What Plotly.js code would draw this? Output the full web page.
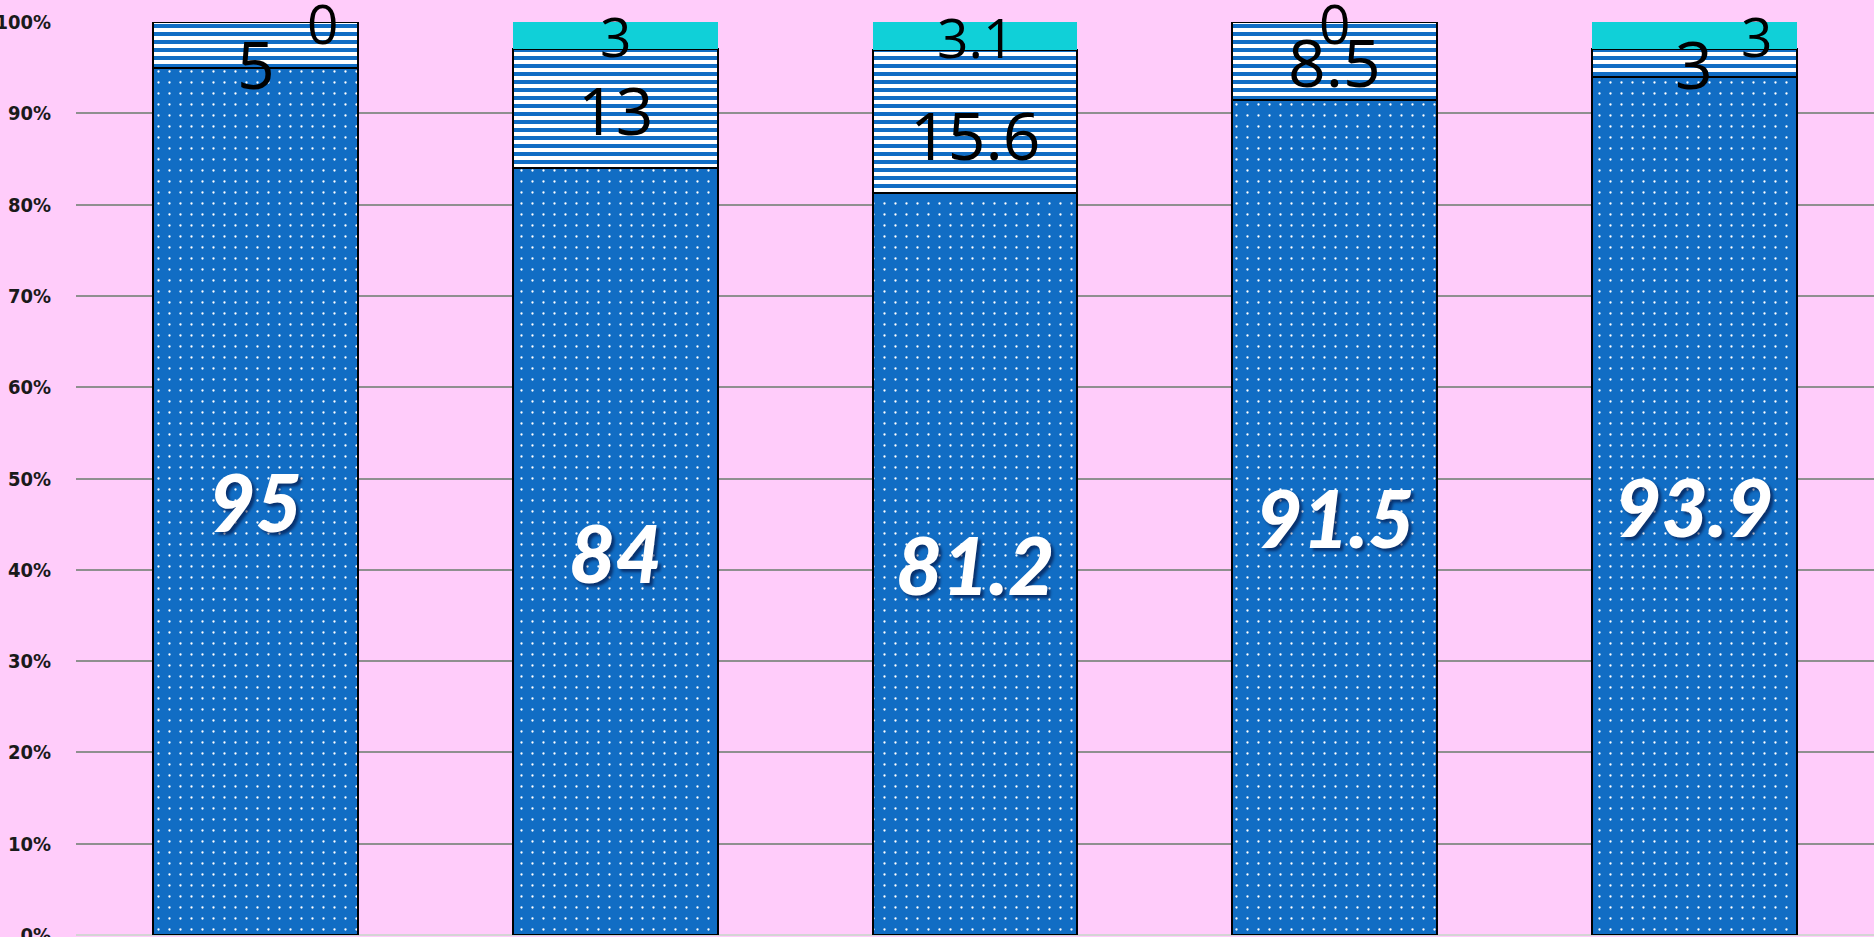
<!DOCTYPE html>
<html><head><meta charset="utf-8">
<script src="https://cdn.plot.ly/plotly-3.0.1.min.js"></script>
<style>html,body{margin:0;padding:0;background:#ffccfa;overflow:hidden}#chart{width:1874px;height:937px;}</style>
</head><body><div id="chart"></div>
<script>
// ---- data ----
const categories = ['Group 1', 'Group 2', 'Group 3', 'Group 4', 'Group 5'];
const seriesBottom = [95, 84, 81.2, 91.5, 93.9];
const seriesMiddle = [5, 13, 15.6, 8.5, 3];
const seriesTop = [0, 3, 3.1, 0, 3];
const yTickVals = [0, 10, 20, 30, 40, 50, 60, 70, 80, 90, 100];
const yTickText = ['0%', '10%', '20%', '30%', '40%', '50%', '60%', '70%', '80%', '90%', '100%'];

// ---- styles ----
const BLUE = '#116dc4';
const CYAN = '#10d0d8';
const BG = '#ffccfa';

// manual label nudges (pixel offsets) to mimic the reference's label de-overlap
const labelNudge = {
  'middle-0': {xshift: 0, yshift: -18},
  'top-0': {xshift: 67, yshift: 0},
  'middle-2': {xshift: 0, yshift: -12},
  'top-4': {xshift: 62, yshift: 0}
};

const traces = [
  {
    type: 'bar', name: 'Bottom', x: categories, y: seriesBottom,
    marker: {color: BLUE, line: {color: '#000', width: 2},
      pattern: {shape: '.', fgcolor: '#ffffff', bgcolor: BLUE, size: 11, solidity: 0.035, fillmode: 'replace'}},
    hoverinfo: 'none'
  },
  {
    type: 'bar', name: 'Middle', x: categories, y: seriesMiddle,
    marker: {color: '#ffffff', line: {color: '#000', width: 2},
      pattern: {shape: '-', fgcolor: BLUE, bgcolor: '#ffffff', size: 8, solidity: 0.5, fillmode: 'replace'}},
    hoverinfo: 'none'
  },
  {
    type: 'bar', name: 'Top', x: categories, y: seriesTop,
    marker: {color: CYAN, line: {color: CYAN, width: 0}},
    hoverinfo: 'none'
  }
];

// label annotations positioned in data coordinates (normalized to percent)
const annotations = [];
categories.forEach((c, i) => {
  const total = seriesBottom[i] + seriesMiddle[i] + seriesTop[i];
  const b = seriesBottom[i] / total * 100;
  const m = seriesMiddle[i] / total * 100;
  const t = seriesTop[i] / total * 100;
  const segs = [
    {key: 'bottom', val: seriesBottom[i], y: b / 2},
    {key: 'middle', val: seriesMiddle[i], y: b + m / 2},
    {key: 'top', val: seriesTop[i], y: b + m + t / 2}
  ];
  segs.forEach(s => {
    const n = labelNudge[s.key + '-' + i] || {xshift: 0, yshift: 0};
    const isBottom = s.key === 'bottom';
    annotations.push({
      x: c, y: s.y, xref: 'x', yref: 'y', text: String(s.val), showarrow: false,
      xanchor: 'center', yanchor: 'middle', xshift: n.xshift, yshift: n.yshift,
      font: isBottom
        ? {family: 'Lato, "Open Sans", sans-serif', size: 80, color: '#ffffff', weight: 900, style: 'italic', shadow: '3px 3px 3px rgba(0,0,40,0.55)'}
        : {family: '"Open Sans", "Noto Sans", sans-serif', size: s.key === 'middle' ? 66 : 55, color: '#000000'}
    });
  });
});

const layout = {
  width: 1874, height: 937,
  paper_bgcolor: BG, plot_bgcolor: BG,
  margin: {l: 76, r: 0, t: 22, b: 2, pad: 0},
  barmode: 'stack', barnorm: 'percent', bargap: 0.43,
  showlegend: false,
  xaxis: {showticklabels: false, showgrid: false, zeroline: false, showline: false, ticks: ''},
  yaxis: {
    range: [0, 100], tickvals: yTickVals, ticktext: yTickText,
    showgrid: true, gridcolor: '#8f8f8f', gridwidth: 2, zeroline: true, zerolinecolor: '#d4d4d4', zerolinewidth: 2,
    ticks: 'outside', ticklen: 20, tickcolor: 'rgba(0,0,0,0)', ticklabeloverflow: 'allow',
    tickfont: {family: '"DejaVu Sans Condensed", "Liberation Sans Narrow", sans-serif', size: 20, color: '#1a1a1a', weight: 'bold'}
  },
  annotations: annotations
};

Plotly.newPlot('chart', traces, layout, {displayModeBar: false, staticPlot: true});
</script></body></html>
